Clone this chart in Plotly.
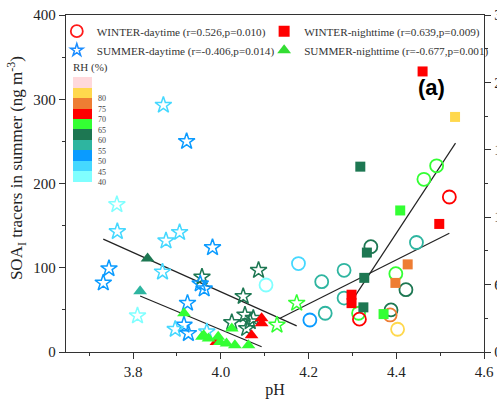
import plotly.graph_objects as go

# ---------------- data ----------------
# WINTER-daytime (open circles)
wd_ph = [4.103, 4.177, 4.203, 4.230, 4.238, 4.281, 4.281, 4.314, 4.316, 4.342,
         4.388, 4.386, 4.399, 4.422, 4.403, 4.446, 4.463, 4.492, 4.521]
wd_val = [79.5, 105, 38, 83.5, 46, 97, 64, 46, 39, 125,
          50, 44, 93, 74, 27, 130, 205, 221, 184]
wd_rh = [42, 47, 52, 57, 57, 57, 57, 67, 72, 62,
         62, 77, 67, 62, 82, 57, 67, 67, 72]

# WINTER-nighttime (squares)
wn_ph = [4.298, 4.298, 4.325, 4.327, 4.333, 4.318, 4.409, 4.371, 4.426, 4.398, 4.498, 4.460, 4.534]
wn_val = [68, 58, 53, 88, 118, 220, 168, 45, 104, 82, 152, 333, 279]
wn_rh = [72, 72, 62, 62, 62, 62, 67, 67, 77, 77, 72, 72, 82]

# SUMMER-daytime (open stars)
sd_ph = [3.869, 3.922, 3.763, 3.764, 3.875, 3.906, 3.981, 3.745, 3.732, 3.867,
         3.957, 3.953, 3.962, 3.924, 3.810, 3.916, 3.926, 3.896, 3.968, 4.025,
         4.086, 4.051, 4.055, 4.067, 4.059, 4.074, 4.173, 4.128]
sd_val = [293, 250, 175, 143, 132, 142, 124, 99, 82, 95,
          89, 81, 75, 58, 43, 32, 22, 27, 24, 35,
          97, 66, 44, 36, 28, 40, 58, 32]
sd_rh = [47, 52, 42, 47, 47, 47, 52, 52, 52, 47,
         62, 52, 52, 52, 42, 52, 52, 47, 47, 62,
         62, 62, 62, 62, 62, 62, 67, 67]

# SUMMER-nighttime (triangles)
sn_ph = [3.990, 4.093, 4.093, 4.070, 3.833, 3.816, 3.916, 3.957, 3.972, 3.994,
         3.998, 4.013, 4.032, 4.025, 4.063, 3.961]
sn_val = [12, 40, 34, 20, 111, 72, 46, 18, 16, 18,
          12, 10, 8, 28, 8, 20]
sn_rh = [72, 72, 72, 72, 62, 57, 67, 67, 67, 67,
         67, 67, 67, 67, 67, 67]

# regression lines (end points)
sd_fit_x = [3.732, 4.173]
sd_fit_y = [134, 31]
sn_fit_x = [3.816, 4.093]
sn_fit_y = [66.5, 6.3]
wd_fit_x = [4.135, 4.521]
wd_fit_y = [40, 141]
wn_fit_x = [4.298, 4.535]
wn_fit_y = [60, 248]

legend_names = ["WINTER-daytime (r=0.526,p=0.010)", "WINTER-nighttime (r=0.639,p=0.009)",
                "SUMMER-daytime (r=-0.406,p=0.014)", "SUMMER-nighttime (r=-0.677,p=0.001)"]

rh_colors = ["#80FFFF", "#45D8FF", "#0A9BFF", "#2EB5A0", "#1D7752",
             "#33FF33", "#FF0000", "#EE7D33", "#FFD84D", "#FFD9DC"]
rh_ticks = [40, 45, 50, 55, 60, 65, 70, 75, 80]

# ---------------- figure ----------------
serif = "Liberation Serif"
n = len(rh_colors)
cscale = []
for i, c in enumerate(rh_colors):
    cscale.append([i / n, c])
    cscale.append([(i + 1) / n, c])

fig = go.Figure()

fits = [(sd_fit_x, sd_fit_y), (sn_fit_x, sn_fit_y), (wd_fit_x, wd_fit_y), (wn_fit_x, wn_fit_y)]
for fx, fy in fits:
    fig.add_trace(go.Scatter(x=fx, y=fy, mode="lines", line=dict(color="#222", width=1.2),
                             showlegend=False, hoverinfo="skip"))

def pts(x, y, c, symbol, size, lw):
    fig.add_trace(go.Scatter(
        x=x, y=y, mode="markers", showlegend=False,
        marker=dict(symbol=symbol, size=size, color=c, coloraxis="coloraxis",
                    line=dict(width=lw))))

pts(wd_ph, wd_val, wd_rh, "circle-open", 13, 1.8)
pts(wn_ph, wn_val, wn_rh, "square", 10, 0)
pts(sd_ph, sd_val, sd_rh, "star-open", 12.5, 1.5)
pts(sn_ph, sn_val, sn_rh, "triangle-up", 12, 0)

# legend-only entries (two legends = two columns)
leg_specs = [("circle-open", "#FF1A1A", 12, 1.8, "legend"), ("square", "#FF0000", 11, 0, "legend2"),
             ("star-open", "#1A8CFF", 9.5, 1.5, "legend"), ("triangle-up", "#33DD33", 12, 0, "legend2")]
for name, (sym, col, sz, lw, lg) in zip(legend_names, leg_specs):
    fig.add_trace(go.Scatter(x=[None], y=[None], mode="markers", name=name, legend=lg,
                             marker=dict(symbol=sym, color=col, size=sz, line=dict(width=lw))))

# dummy trace for the right axis
fig.add_trace(go.Scatter(x=[None], y=[None], yaxis="y2", showlegend=False))

axis_common = dict(showline=True, linecolor="#333", linewidth=1.3, ticks="outside",
                   tickcolor="#333", tickwidth=1.2, ticklen=6, showgrid=False, zeroline=False,
                   automargin=False,
                   tickfont=dict(family=serif, size=15, color="#222"))

leg_common = dict(orientation="v", yanchor="top", xanchor="left", itemsizing="trace",
                  bgcolor="rgba(0,0,0,0)", tracegroupgap=0,
                  font=dict(family=serif, size=11.2, color="#333"))

fig.update_layout(
    width=497, height=406,
    margin=dict(l=66, r=13, t=15, b=54, autoexpand=False),
    paper_bgcolor="white", plot_bgcolor="white",
    xaxis=dict(range=[3.647, 4.6], dtick=0.2, tick0=3.8, tickformat=".1f",
               minor=dict(dtick=0.1, ticks="outside", ticklen=3, tickcolor="#333"),
               title=dict(text="pH", font=dict(family=serif, size=16, color="#222"), standoff=4),
               mirror=True, **axis_common),
    yaxis=dict(range=[0, 400], dtick=100,
               minor=dict(dtick=50, ticks="outside", ticklen=3, tickcolor="#333"),
               **axis_common),
    yaxis2=dict(overlaying="y", side="right", range=[0, 300], dtick=60,
                minor=dict(dtick=30, ticks="outside", ticklen=3, tickcolor="#333"),
                **axis_common),
    coloraxis=dict(colorscale=cscale, cmin=40, cmax=90,
                   colorbar=dict(x=0.0167, xanchor="left", y=0.868, yanchor="top",
                                 len=123, lenmode="pixels", thickness=19,
                                 outlinewidth=0, ticks="outside", ticklen=5,
                                 tickcolor="rgba(0,0,0,0)", xpad=0, ypad=0,
                                 tickvals=rh_ticks,
                                 tickfont=dict(family=serif, size=8, color="#444"),
                                 title=dict(text="RH (%)", side="top",
                                            font=dict(family=serif, size=11, color="#333")))),
    legend=dict(x=-0.022, y=0.995, **leg_common),
    legend2=dict(x=0.474, y=0.995, **leg_common),
    annotations=[
        dict(text="<b>(a)</b>", x=0.911, y=0.828, xref="paper", yref="paper",
             showarrow=False, font=dict(family="Liberation Sans", size=22, color="black")),
        dict(text="SOA<sub>I</sub> tracers in summer (ng m<sup>-3</sup>)", textangle=-90,
             x=-0.117, y=0.546, xref="paper", yref="paper", xanchor="center", yanchor="middle",
             showarrow=False, font=dict(family=serif, size=17, color="#222")),
    ],
)

fig.write_html("out.html")
